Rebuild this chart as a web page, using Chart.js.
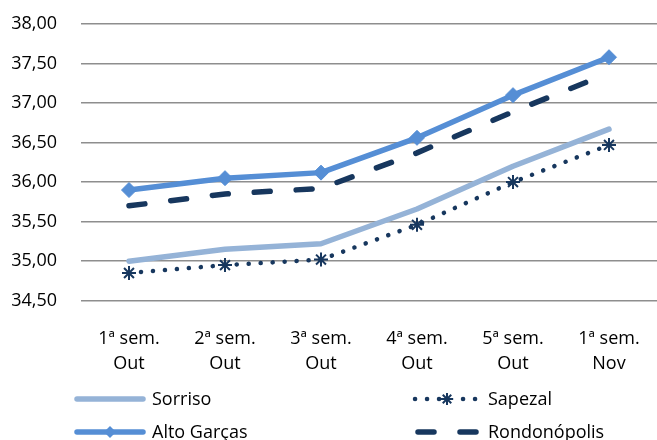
<!DOCTYPE html>
<html>
<head>
<meta charset="utf-8">
<script src="https://cdn.jsdelivr.net/npm/chart.js@4.4.1/dist/chart.umd.min.js"></script>
<style>
  html, body { margin: 0; padding: 0; background: #fff; }
  #wrap { width: 657px; height: 440px; position: relative; }
</style>
</head>
<body>
<div id="wrap"><canvas id="c" width="657" height="440"></canvas></div>
<script>
const categories = [["1ª sem.", "Out"], ["2ª sem.", "Out"], ["3ª sem.", "Out"], ["4ª sem.", "Out"], ["5ª sem.", "Out"], ["1ª sem.", "Nov"]];
const sorriso      = [35.00, 35.15, 35.22, 35.66, 36.20, 36.67];
const sapezal      = [34.85, 34.95, 35.02, 35.46, 36.00, 36.47];
const altoGarcas   = [35.90, 36.05, 36.12, 36.56, 37.10, 37.58];
const rondonopolis = [35.70, 35.85, 35.92, 36.37, 36.89, 37.38];
const yTicks = [34.5, 35.0, 35.5, 36.0, 36.5, 37.0, 37.5, 38.0];
const yTickLabels = ["34,50", "35,00", "35,50", "36,00", "36,50", "37,00", "37,50", "38,00"];

const FONT = "'Open Sans', 'Noto Sans', sans-serif";

const datasets = [
  { label: "Sorriso", data: sorriso, borderColor: "#95B3D7", backgroundColor: "#95B3D7",
    borderWidth: 5.5, pointRadius: 0, pointHoverRadius: 0, borderCapStyle: "round", borderJoinStyle: "round",
    legendCol: 0, legendRow: 0 },
  { label: "Sapezal", data: sapezal, borderColor: "#17375E", backgroundColor: "#17375E",
    borderWidth: 4.5, borderDash: [0.1, 11.9], borderCapStyle: "round",
    pointStyle: "star", pointRadius: 7, pointBorderWidth: 2, pointBorderColor: "#17375E",
    legendCol: 1, legendRow: 0 },
  { label: "Alto Garças", data: altoGarcas, borderColor: "#558ED5", backgroundColor: "#558ED5",
    borderWidth: 5.5, borderJoinStyle: "round", pointStyle: "rectRot", pointRadius: 7.5, pointBorderWidth: 1,
    pointBackgroundColor: "#558ED5", pointBorderColor: "#558ED5",
    legendCol: 0, legendRow: 1 },
  { label: "Rondonópolis", data: rondonopolis, borderColor: "#17375E", backgroundColor: "#17375E",
    borderWidth: 5.5, borderDash: [16, 26], borderCapStyle: "round", pointRadius: 0, pointHoverRadius: 0,
    legendCol: 1, legendRow: 1 }
];

const legendPlugin = {
  id: "customLegend",
  afterDraw(chart) {
    const ctx = chart.ctx;
    const cols = [{ x0: 74, x1: 146, tx: 152 }, { x0: 412, x1: 482, tx: 488 }];
    const rows = [399, 432];
    chart.data.datasets.forEach(ds => {
      const c = cols[ds.legendCol], y = rows[ds.legendRow];
      ctx.save();
      ctx.strokeStyle = ds.borderColor;
      ctx.lineWidth = ds.borderWidth;
      ctx.lineCap = ds.borderCapStyle || "round";
      ctx.setLineDash(ds.borderDash || []);
      ctx.beginPath();
      if (ds.borderDash && ds.borderDash[0] > 1) {
        ctx.moveTo(c.x0 + 6, y); ctx.lineTo(c.x1, y);
      } else {
        ctx.moveTo(c.x0 + 3, y); ctx.lineTo(c.x1 - 3, y);
      }
      ctx.stroke();
      ctx.setLineDash([]);
      const mx = (c.x0 + c.x1) / 2;
      if (ds.pointStyle === "rectRot") {
        ctx.fillStyle = ds.pointBackgroundColor;
        const r = 6;
        ctx.beginPath();
        ctx.moveTo(mx, y - r); ctx.lineTo(mx + r, y); ctx.lineTo(mx, y + r); ctx.lineTo(mx - r, y); ctx.closePath();
        ctx.fill();
      } else if (ds.pointStyle === "star") {
        const r = 6;
        ctx.clearRect(mx - 6, y - 6, 12, 12);
        ctx.lineWidth = 2; ctx.lineCap = "butt";
        ctx.beginPath();
        for (let k = 0; k < 4; k++) {
          const a = k * Math.PI / 4;
          ctx.moveTo(mx - r * Math.cos(a), y - r * Math.sin(a));
          ctx.lineTo(mx + r * Math.cos(a), y + r * Math.sin(a));
        }
        ctx.stroke();
      }
      ctx.fillStyle = "#000";
      ctx.font = "18px " + FONT;
      ctx.textAlign = "left";
      ctx.textBaseline = "middle";
      ctx.fillText(ds.label, c.tx, y + 1);
      ctx.restore();
    });
  }
};

new Chart(document.getElementById("c"), {
  type: "line",
  data: { labels: categories, datasets: datasets },
  plugins: [legendPlugin],
  options: {
    responsive: false,
    animation: false,
    devicePixelRatio: 1,
    layout: { autoPadding: false, padding: { top: 24, right: 0, bottom: 0, left: 0 } },
    plugins: { legend: { display: false }, tooltip: { enabled: false }, title: { display: false } },
    elements: { line: { tension: 0 } },
    scales: {
      x: {
        offset: true,
        grid: { display: false, drawTicks: false },
        border: { display: false },
        ticks: { color: "#000", font: { family: FONT, size: 18, lineHeight: 1.42 }, padding: 25, maxRotation: 0, autoSkip: false },
        afterFit(scale) { scale.height = 139.3; scale.paddingLeft = 0; scale.paddingRight = 0; }
      },
      y: {
        min: 34.5, max: 38,
        afterBuildTicks(scale) { scale.ticks = yTicks.map(v => ({ value: v })); },
        grid: { color: "#8E8E8E", lineWidth: 1.6, drawTicks: false },
        border: { display: false },
        ticks: {
          color: "#000", font: { family: FONT, size: 18 }, padding: 24,
          callback(value) { const i = yTicks.indexOf(value); return i >= 0 ? yTickLabels[i] : ""; }
        },
        afterFit(scale) { scale.width = 81; scale.paddingTop = 0; scale.paddingBottom = 0; }
      }
    }
  }
});
</script>
</body>
</html>
